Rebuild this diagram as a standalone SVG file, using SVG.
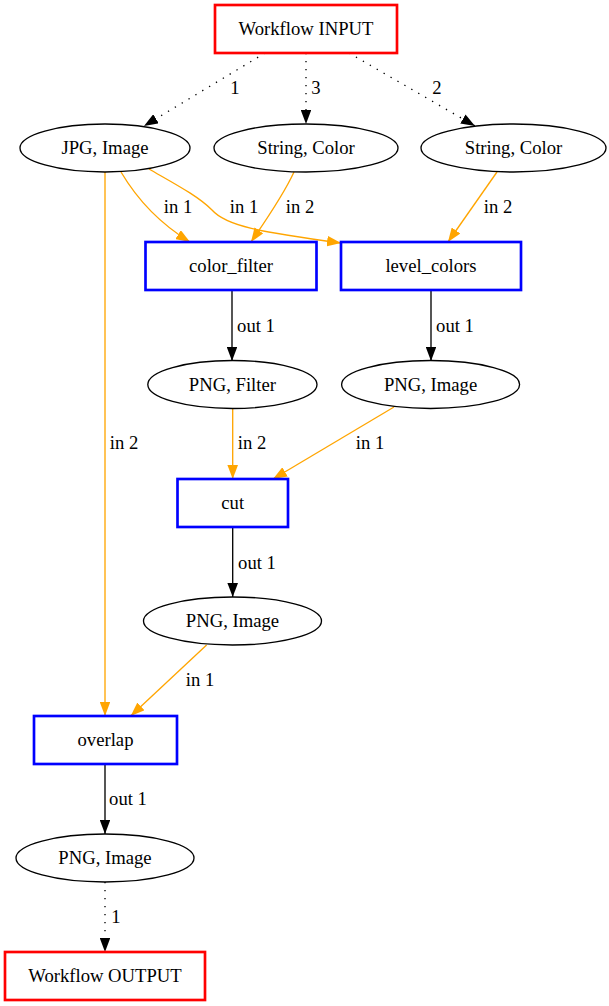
<svg xmlns="http://www.w3.org/2000/svg" width="609" height="1006" viewBox="0 0 609 1006">
  <style>
    text { font-family: "Liberation Serif", "Times New Roman", serif; font-size: 18.67px; fill: #000; text-anchor: middle; }
    .io { fill: none; stroke: #ff0000; stroke-width: 2.67; }
    .tool { fill: none; stroke: #0000ff; stroke-width: 2.67; }
    .data { fill: none; stroke: #000; stroke-width: 1.33; }
    .e { fill: none; stroke-width: 1.33; }
    .dot { stroke: #000; stroke-dasharray: 1.33 6.67; marker-end: url(#ah-black); }
    .blk { stroke: #000; marker-end: url(#ah-black); }
    .org { stroke: #ffa500; marker-end: url(#ah-orange); }
  </style>
  <defs>
    <marker id="ah-black" viewBox="0 0 14 10.6" refX="14" refY="5.3" markerWidth="14" markerHeight="10.6" markerUnits="userSpaceOnUse" orient="auto">
      <path d="M0,0 L14,5.3 L0,10.6 z" fill="#000"/>
    </marker>
    <marker id="ah-orange" viewBox="0 0 14 10.6" refX="14" refY="5.3" markerWidth="14" markerHeight="10.6" markerUnits="userSpaceOnUse" orient="auto">
      <path d="M0,0 L14,5.3 L0,10.6 z" fill="#ffa500"/>
    </marker>
  </defs>

  <rect width="609" height="1006" fill="#fff"/>

  <!-- connectors -->
  <g id="edges">
    <path class="e dot" d="M265,53 L144,126"/>
    <path class="e dot" d="M306,53 L306,124"/>
    <path class="e dot" d="M349,53 L475,126"/>
    <path class="e org" d="M121,172 C134,194 154,220 190,242"/>
    <path class="e org" d="M149,169 C175,184 198,196 212,210 C226,226 260,232 341,243"/>
    <path class="e org" d="M294,172 C283,196 266,220 251,242"/>
    <path class="e org" d="M497,172 L448,242"/>
    <path class="e org" d="M105,172 L105,716"/>
    <path class="e blk" d="M232,290 L232,361"/>
    <path class="e blk" d="M431,290 L431,361"/>
    <path class="e org" d="M232.7,409 L232.7,479"/>
    <path class="e org" d="M394,407 L273,479"/>
    <path class="e blk" d="M232.7,527 L232.7,597"/>
    <path class="e org" d="M206.6,645 L130.7,716"/>
    <path class="e blk" d="M105,764 L105,834"/>
    <path class="e dot" d="M105,882 L105,952"/>

    <text x="235" y="94">1</text>
    <text x="316" y="94">3</text>
    <text x="437" y="94">2</text>
    <text x="178" y="213">in 1</text>
    <text x="244" y="213">in 1</text>
    <text x="300" y="213">in 2</text>
    <text x="498" y="213">in 2</text>
    <text x="256" y="332">out 1</text>
    <text x="455" y="332">out 1</text>
    <text x="124" y="449">in 2</text>
    <text x="252" y="449">in 2</text>
    <text x="370" y="449">in 1</text>
    <text x="257" y="569">out 1</text>
    <text x="200" y="686">in 1</text>
    <text x="128" y="805">out 1</text>
    <text x="116" y="923">1</text>
  </g>

  <!-- nodes -->
  <g id="workflow_input">
    <rect class="io" x="215" y="5" width="182" height="48"/>
    <text x="306" y="35">Workflow INPUT</text>
  </g>
  <g id="jpg_image">
    <ellipse class="data" cx="105" cy="148" rx="85" ry="24"/>
    <text x="105" y="154">JPG, Image</text>
  </g>
  <g id="string_color_1">
    <ellipse class="data" cx="306" cy="148" rx="92" ry="24"/>
    <text x="306" y="154">String, Color</text>
  </g>
  <g id="string_color_2">
    <ellipse class="data" cx="513.5" cy="148" rx="92.5" ry="24"/>
    <text x="513.5" y="154">String, Color</text>
  </g>
  <g id="color_filter">
    <rect class="tool" x="145.5" y="242" width="171" height="48"/>
    <text x="231" y="272">color_filter</text>
  </g>
  <g id="level_colors">
    <rect class="tool" x="341" y="242" width="180" height="48"/>
    <text x="431" y="272">level_colors</text>
  </g>
  <g id="png_filter">
    <ellipse class="data" cx="232.4" cy="384.5" rx="84.6" ry="24"/>
    <text x="232.4" y="390.5">PNG, Filter</text>
  </g>
  <g id="png_image_1">
    <ellipse class="data" cx="430.6" cy="384.5" rx="89" ry="24"/>
    <text x="430.6" y="390.5">PNG, Image</text>
  </g>
  <g id="cut">
    <rect class="tool" x="177.5" y="479" width="110.5" height="48"/>
    <text x="232.7" y="509">cut</text>
  </g>
  <g id="png_image_2">
    <ellipse class="data" cx="232.5" cy="621" rx="89" ry="24"/>
    <text x="232.5" y="627">PNG, Image</text>
  </g>
  <g id="overlap">
    <rect class="tool" x="34" y="716" width="143" height="48"/>
    <text x="105.5" y="746">overlap</text>
  </g>
  <g id="png_image_3">
    <ellipse class="data" cx="105" cy="858" rx="89" ry="24"/>
    <text x="105" y="864">PNG, Image</text>
  </g>
  <g id="workflow_output">
    <rect class="io" x="5" y="952" width="200" height="48"/>
    <text x="105" y="982">Workflow OUTPUT</text>
  </g>
</svg>
